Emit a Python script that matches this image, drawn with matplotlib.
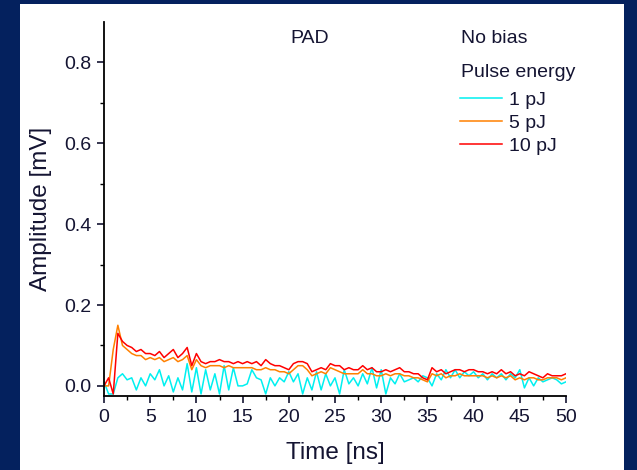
import numpy as np
import matplotlib.pyplot as plt
from matplotlib.patches import Rectangle

plt.rcParams['font.family'] = ['Liberation Sans', 'DejaVu Sans']

# time axis, 0.5 ns steps
t = np.arange(0, 50.01, 0.5)

amp_10pJ = [0.00, 0.02, -0.02, 0.13, 0.11, 0.10, 0.095, 0.085, 0.09, 0.08,
            0.08, 0.075, 0.085, 0.07, 0.08, 0.09, 0.07, 0.08, 0.095, 0.05,
            0.08, 0.06, 0.055, 0.06, 0.06, 0.065, 0.06, 0.06, 0.055, 0.06,
            0.055, 0.06, 0.055, 0.06, 0.05, 0.065, 0.055, 0.05, 0.05, 0.045,
            0.04, 0.055, 0.06, 0.06, 0.055, 0.035, 0.04, 0.045, 0.04, 0.055,
            0.05, 0.05, 0.04, 0.045, 0.04, 0.04, 0.05, 0.04, 0.045, 0.035,
            0.035, 0.04, 0.035, 0.04, 0.045, 0.035, 0.035, 0.03, 0.03, 0.02,
            0.015, 0.045, 0.035, 0.04, 0.03, 0.035, 0.04, 0.04, 0.035, 0.04,
            0.04, 0.035, 0.035, 0.03, 0.035, 0.03, 0.04, 0.03, 0.035, 0.025,
            0.03, 0.025, 0.035, 0.03, 0.025, 0.02, 0.03, 0.025, 0.025, 0.025,
            0.03]

amp_5pJ = [0.00, 0.00, 0.09, 0.15, 0.10, 0.09, 0.08, 0.075, 0.075, 0.065,
           0.07, 0.065, 0.07, 0.06, 0.065, 0.07, 0.06, 0.065, 0.075, 0.04,
           0.065, 0.05, 0.045, 0.05, 0.05, 0.05, 0.045, 0.05, 0.045, 0.045,
           0.045, 0.045, 0.045, 0.04, 0.04, 0.045, 0.04, 0.04, 0.035, 0.035,
           0.03, 0.04, 0.05, 0.05, 0.04, 0.025, 0.03, 0.035, 0.03, 0.045,
           0.04, 0.035, 0.03, 0.03, 0.03, 0.03, 0.04, 0.03, 0.03, 0.025,
           0.025, 0.03, 0.025, 0.03, 0.03, 0.025, 0.025, 0.02, 0.02, 0.015,
           0.01, 0.03, 0.025, 0.03, 0.02, 0.025, 0.025, 0.03, 0.025, 0.025,
           0.025, 0.025, 0.025, 0.02, 0.025, 0.02, 0.025, 0.02, 0.025, 0.015,
           0.02, 0.015, 0.02, 0.02, 0.015, 0.015, 0.02, 0.02, 0.02, 0.015,
           0.02]

amp_1pJ = [0.01, -0.02, -0.02, 0.02, 0.03, 0.015, 0.02, -0.01, 0.02, 0.0,
           0.03, 0.015, 0.04, 0.0, 0.025, -0.015, 0.02, -0.01, 0.055, -0.015,
           0.045, -0.02, 0.04, -0.01, 0.03, -0.02, 0.05, -0.01, 0.045, 0.0,
           0.0, 0.005, 0.04, 0.02, 0.015, -0.02, 0.02, 0.0, 0.02, 0.01,
           0.035, 0.01, 0.03, -0.02, 0.02, -0.01, 0.035, -0.01, 0.03, 0.0,
           0.02, -0.02, 0.04, 0.005, 0.02, 0.0, 0.03, 0.005, 0.045, -0.005,
           0.04, -0.02, 0.02, 0.005, 0.03, 0.01, 0.015, 0.02, 0.01, 0.025,
           0.02, 0.0, 0.03, 0.015, 0.04, 0.02, 0.04, 0.02, 0.035, 0.025,
           0.035, 0.02, 0.03, 0.015, 0.03, 0.02, 0.03, 0.015, 0.03, 0.02,
           0.04, -0.005, 0.02, 0.0, 0.02, 0.01, 0.015, 0.02, 0.015, 0.005,
           0.01]

txt_col = '#141432'

fig = plt.figure(figsize=(6.37, 4.70), dpi=100, facecolor='#04215e')
fig.patches.append(Rectangle((20 / 637, 0), 604 / 637, 466 / 470,
                             transform=fig.transFigure, facecolor='white',
                             edgecolor='none', zorder=-10))

ax = fig.add_axes([104 / 637, 74 / 470, 462 / 637, 374 / 470])
ax.set_facecolor('white')

ax.plot(t, amp_1pJ, color='#00f0f0', lw=1.1, label='1 pJ')
ax.plot(t, amp_5pJ, color='#ff8000', lw=1.1, label='5 pJ')
ax.plot(t, amp_10pJ, color='#ff0000', lw=1.1, label='10 pJ')

ax.set_xlim(0, 50)
ax.set_ylim(-0.025, 0.9)
ax.set_xticks(np.arange(0, 51, 5))
ax.set_xticks(np.arange(2.5, 50, 5), minor=True)
ax.set_yticks([0.0, 0.2, 0.4, 0.6, 0.8])
ax.set_yticks([0.1, 0.3, 0.5, 0.7], minor=True)
ax.set_yticklabels(['0.0', '0.2', '0.4', '0.6', '0.8'])

for s in ['top', 'right']:
    ax.spines[s].set_visible(False)
for s in ['left', 'bottom']:
    ax.spines[s].set_linewidth(1.3)

ax.tick_params(which='major', direction='out', length=5, width=1.2,
               labelsize=14, colors=txt_col, pad=4)
ax.tick_params(which='minor', direction='out', length=3, width=1.0)

ax.set_xlabel('Time [ns]', fontsize=17.5, color=txt_col, labelpad=12)
ax.set_ylabel('Amplitude [mV]', fontsize=17.5, color=txt_col, labelpad=9)

ax.text(22.3, 0.859, 'PAD', fontsize=14, ha='center', va='center',
        color=txt_col)
ax.text(38.6, 0.859, 'No bias', fontsize=14, ha='left', va='center',
        color=txt_col)
ax.text(38.6, 0.775, 'Pulse energy', fontsize=14, ha='left', va='center',
        color=txt_col)

leg = ax.legend(loc='upper left', bbox_to_anchor=(0.771, 0.815),
                frameon=False, fontsize=14, handlelength=2.15,
                handletextpad=0.35, labelspacing=0.28, borderpad=0,
                borderaxespad=0)
for txt in leg.get_texts():
    txt.set_color(txt_col)

fig.savefig('out.png', dpi=100, facecolor=fig.get_facecolor())
